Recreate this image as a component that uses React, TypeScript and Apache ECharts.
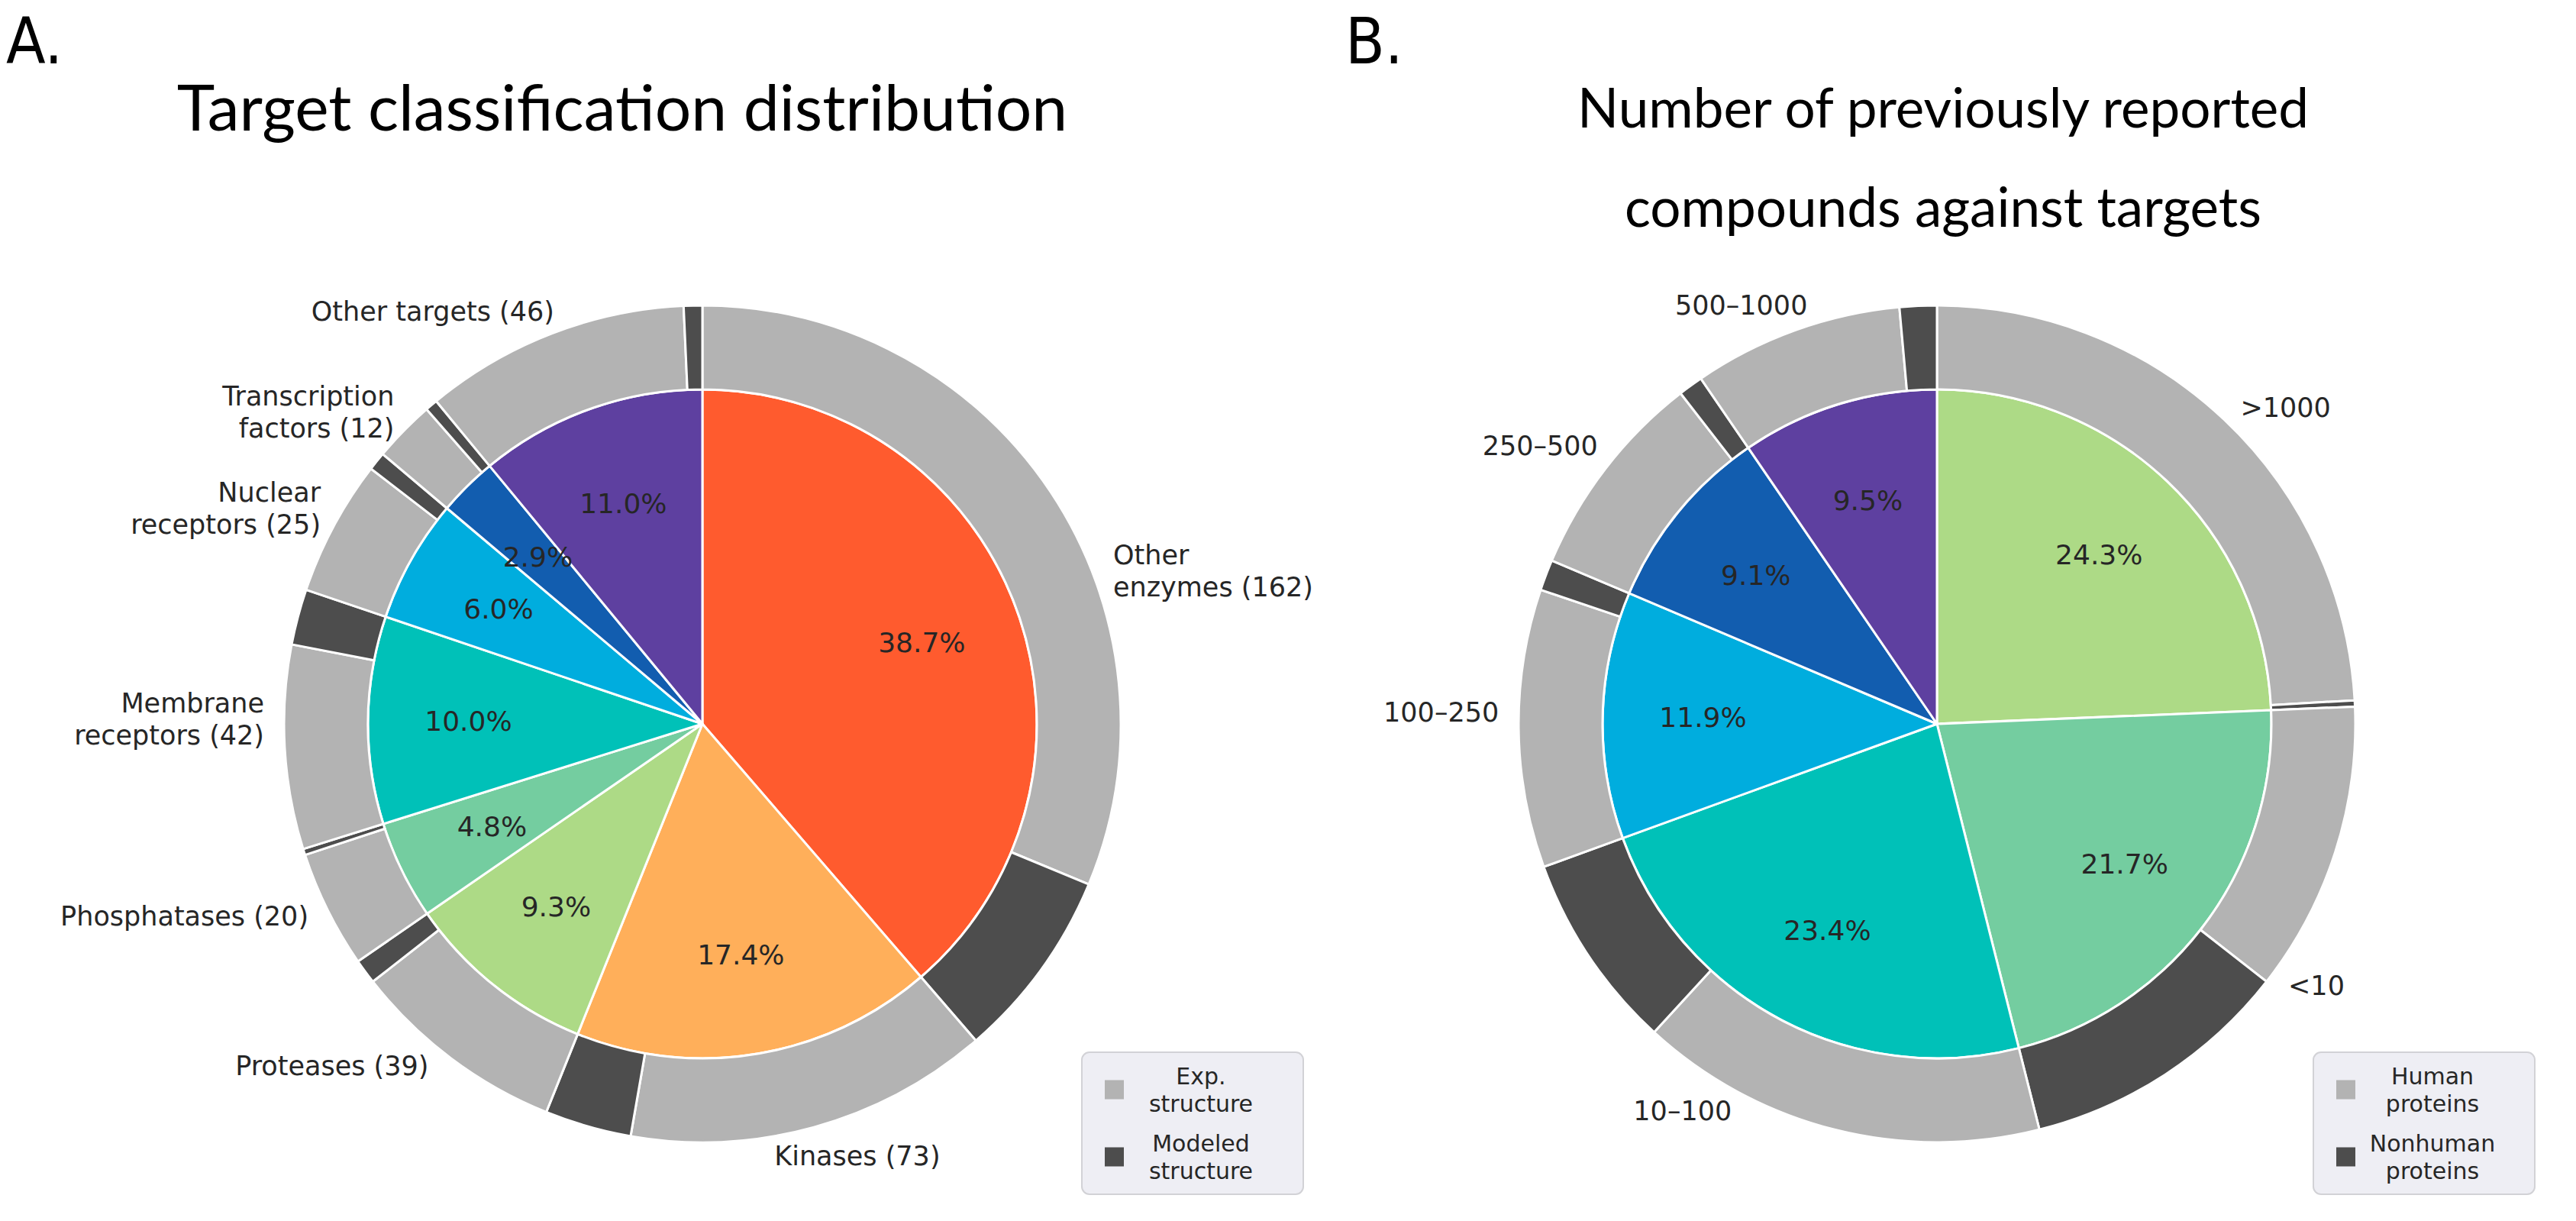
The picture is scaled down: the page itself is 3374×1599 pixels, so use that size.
import React, { useEffect, useRef } from 'react';
import * as echarts from 'echarts';

// ---------- data ----------
const leftCategories = ['Other\nenzymes', 'Kinases', 'Proteases', 'Phosphatases', 'Membrane\nreceptors', 'Nuclear\nreceptors', 'Transcription\nfactors', 'Other targets'];
const leftCounts = [162, 73, 39, 20, 42, 25, 12, 46];
const leftExp = [131, 59, 35, 19, 33, 22, 10, 43];
const leftModeled = [31, 14, 4, 1, 9, 3, 2, 3];
const leftColors = ['#FF5B2E', '#FFAF5A', '#ADDA86', '#74CDA0', '#00C1B8', '#00ADDE', '#125DAF', '#5E40A0'];
const leftLegend = ['Exp. structure', 'Modeled structure'];

const rightCategories = ['>1000', '<10', '10–100', '100–250', '250–500', '500–1000'];
const rightCounts = [102, 91, 98, 50, 38, 40];
const rightHuman = [101, 47, 66, 45, 34, 34];
const rightNonhuman = [1, 44, 32, 5, 4, 6];
const rightColors = ['#ADDA86', '#74CDA0', '#00C1B8', '#00ADDE', '#125DAF', '#5E40A0'];
const rightLegend = ['Human proteins', 'Nonhuman proteins'];

const titleA = 'Target classification distribution';
const titleB = 'Number of previously reported\ncompounds against targets';

// ---------- layout / style ----------
const R_OUT = 548;
const R_IN = 438;
const LABEL_GAP = 26;
const FONT = "'DejaVu Sans', sans-serif";
const TEXT = '#262626';
const LIGHT = '#B3B3B3';
const DARK = '#4D4D4D';

function buildPie(center: number[], names: string[], counts: number[], a: number[], b: number[], colors: string[], legendNames: string[], withCounts: boolean) {
  const total = counts.reduce((s, v) => s + v, 0);
  const common: any = {
    type: 'pie',
    center,
    startAngle: 90,
    clockwise: true,
    avoidLabelOverlap: false,
    emphasis: { disabled: true },
    labelLine: { show: false },
    label: { show: false },
    animation: false,
  };
  const ring: any[] = [];
  names.forEach((_, i) => {
    ring.push({ name: legendNames[0], value: a[i], itemStyle: { color: LIGHT } });
    ring.push({ name: legendNames[1], value: b[i], itemStyle: { color: DARK } });
  });
  const plain = counts.map((v, i) => ({ name: names[i], value: v }));
  return [
    {
      ...common,
      radius: [0, R_IN],
      data: counts.map((v, i) => ({ name: names[i], value: v, itemStyle: { color: colors[i] } })),
      itemStyle: { borderColor: '#ffffff', borderWidth: 3 },
    },
    {
      ...common,
      radius: [R_IN, R_OUT],
      data: ring,
      itemStyle: { borderColor: '#ffffff', borderWidth: 3 },
    },
    {
      ...common,
      silent: true,
      radius: [R_IN * 0.4 - 6, R_IN],
      data: plain,
      itemStyle: { color: 'rgba(0,0,0,0)', borderWidth: 0 },
      label: {
        show: true,
        position: 'inside',
        formatter: (p: any) => ((counts[p.dataIndex] / total) * 100).toFixed(1) + '%',
        fontFamily: FONT,
        fontSize: 36,
        color: TEXT,
      },
    },
    {
      ...common,
      silent: true,
      radius: [R_IN, R_OUT],
      data: plain,
      itemStyle: { color: 'rgba(0,0,0,0)', borderWidth: 0 },
      label: {
        show: true,
        position: 'outside',
        formatter: (p: any) => (withCounts ? `${names[p.dataIndex]} (${counts[p.dataIndex]})` : names[p.dataIndex]),
        fontFamily: FONT,
        fontSize: 35,
        lineHeight: 42,
        color: TEXT,
        distanceToLabelLine: 0,
      },
      labelLine: { show: false, length: LABEL_GAP, length2: 0 },
    },
  ];
}

function legendOf(names: string[], left: number) {
  return {
    data: names,
    left,
    top: 1378,
    orient: 'vertical',
    selectedMode: false,
    backgroundColor: '#EEEEF4',
    borderColor: '#D2D2D6',
    borderWidth: 2,
    borderRadius: 10,
    padding: [16, 38, 16, 30],
    itemWidth: 25,
    itemHeight: 25,
    itemGap: 22,
    icon: 'rect',
    itemStyle: { borderWidth: 0 },
    formatter: (name: string) => name.split(' ').map((w) => `{t|${w}}`).join('\n'),
    textStyle: {
      rich: {
        t: { width: 192, align: 'center', fontSize: 30, lineHeight: 36, color: TEXT, fontFamily: FONT },
      },
    },
  };
}

export default function App() {
  const ref = useRef<HTMLDivElement>(null);
  useEffect(() => {
    document.body.style.margin = '0';
    document.body.style.overflow = 'hidden';
    if (!ref.current) return;
    const chart = echarts.init(ref.current, undefined, { renderer: 'svg' });
    const letterFont = "'Liberation Sans Narrow', 'DejaVu Sans Condensed', sans-serif";
    chart.setOption({
      animation: false,
      backgroundColor: '#ffffff',
      legend: [legendOf(leftLegend, 1417), legendOf(rightLegend, 3030)],
      series: [
        ...buildPie([920, 948], leftCategories, leftCounts, leftExp, leftModeled, leftColors, leftLegend, true),
        ...buildPie([2537, 948], rightCategories, rightCounts, rightHuman, rightNonhuman, rightColors, rightLegend, false),
      ],
      graphic: [
        { type: 'text', x: 8, y: 54, style: { text: 'A.', fontFamily: letterFont, fontSize: 84, fill: '#000', align: 'left', textAlign: 'left', verticalAlign: 'middle', textVerticalAlign: 'middle' } },
        { type: 'text', x: 1762, y: 54, style: { text: 'B.', fontFamily: letterFont, fontSize: 84, fill: '#000', align: 'left', textAlign: 'left', verticalAlign: 'middle', textVerticalAlign: 'middle' } },
        { type: 'text', x: 815, y: 138, style: { text: titleA, fontFamily: 'Lato', fontSize: 84, fill: '#000', align: 'center', textAlign: 'center', verticalAlign: 'middle', textVerticalAlign: 'middle' } },
        { type: 'text', x: 2545, y: 204, style: { text: titleB, fontFamily: 'Lato', fontSize: 71, lineHeight: 130, fill: '#000', align: 'center', textAlign: 'center', verticalAlign: 'middle', textVerticalAlign: 'middle' } },
      ],
    });
    return () => chart.dispose();
  }, []);
  return <div ref={ref} style={{ width: 3374, height: 1599 }} />;
}
